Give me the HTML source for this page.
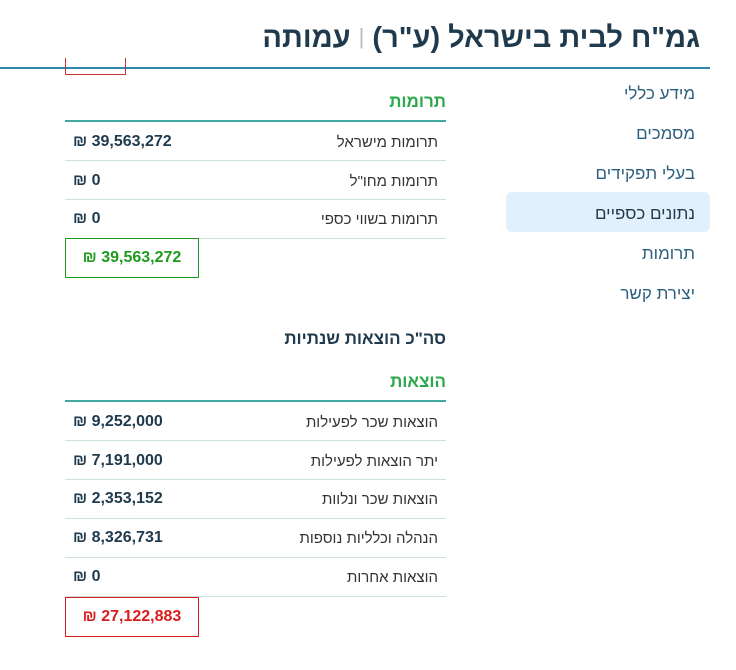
<!DOCTYPE html>
<html lang="he"><head><meta charset="utf-8">
<style>
*{margin:0;padding:0;box-sizing:border-box}
body{width:736px;height:670px;background:#fff;position:relative;overflow:hidden;font-family:"Liberation Sans","Noto Sans CJK JP",sans-serif;color:#333}
.a{position:absolute}
.title{right:36px;top:22px;font-size:29px;font-weight:bold;color:#1f3a4d;direction:rtl;white-space:nowrap}
.title .sep{color:#bbb;font-weight:normal;font-size:22px;vertical-align:3px}
.hr{left:0;top:67px;width:710px;height:2px;background:#2f87ad}
.nav{right:41px;font-size:17px;color:#2d5f7f;direction:rtl;white-space:nowrap}
.active{left:506px;top:192px;width:204px;height:40px;background:#e2f0fb;border-radius:6px}
.h-green{right:290px;font-size:17px;font-weight:bold;color:#2aa84a;direction:rtl}
.h-dark{right:290px;font-size:17px;font-weight:bold;color:#1f3a4d;direction:rtl}
.thick{left:65px;width:381px;height:2px;background:#41a8a3}
.sepl{left:65px;width:381px;height:1px;background:#cfdfe0}
.lbl{right:298px;font-size:15px;color:#333;direction:rtl;white-space:nowrap}
.val{left:73px;font-size:16px;font-weight:bold;color:#1f3a4d;direction:ltr;white-space:nowrap}
.tot{left:65px;width:134px;height:40px;border:1.5px solid;font-size:16px;font-weight:bold;display:flex;align-items:center;justify-content:center;direction:ltr}
</style></head><body>
<div class="a title">גמ"ח לבית בישראל (ע"ר) <span class="sep">|</span> עמותה</div>
<div class="a hr"></div>

<div class="a active"></div>
<div class="a nav" style="top:84px">מידע כללי</div>
<div class="a nav" style="top:124px">מסמכים</div>
<div class="a nav" style="top:164px">בעלי תפקידים</div>
<div class="a nav" style="top:204px;color:#1f3a4d">נתונים כספיים</div>
<div class="a nav" style="top:244px">תרומות</div>
<div class="a nav" style="top:284px">יצירת קשר</div>

<div class="a" style="left:65px;top:58px;width:61px;height:17px;border:1px solid #c33;border-top:none"></div>

<div class="a h-green" style="top:92px">תרומות</div>
<div class="a thick" style="top:120px"></div>
<div class="a lbl" style="top:134px">תרומות מישראל</div>
<div class="a val" style="top:133px">₪ 39,563,272</div>
<div class="a sepl" style="top:160px"></div>
<div class="a lbl" style="top:173px">תרומות מחו"ל</div>
<div class="a val" style="top:172px">₪ 0</div>
<div class="a sepl" style="top:199px"></div>
<div class="a lbl" style="top:211px">תרומות בשווי כספי</div>
<div class="a val" style="top:210px">₪ 0</div>
<div class="a sepl" style="top:238px"></div>
<div class="a tot" style="top:238px;border-color:#1e9a1e;color:#1e9a1e">₪ 39,563,272</div>

<div class="a h-dark" style="top:329px">סה"כ הוצאות שנתיות</div>
<div class="a h-green" style="top:372px">הוצאות</div>
<div class="a thick" style="top:400px"></div>
<div class="a lbl" style="top:414px">הוצאות שכר לפעילות</div>
<div class="a val" style="top:413px">₪ 9,252,000</div>
<div class="a sepl" style="top:440px"></div>
<div class="a lbl" style="top:453px">יתר הוצאות לפעילות</div>
<div class="a val" style="top:452px">₪ 7,191,000</div>
<div class="a sepl" style="top:479px"></div>
<div class="a lbl" style="top:491px">הוצאות שכר ונלוות</div>
<div class="a val" style="top:490px">₪ 2,353,152</div>
<div class="a sepl" style="top:518px"></div>
<div class="a lbl" style="top:530px">הנהלה וכלליות נוספות</div>
<div class="a val" style="top:529px">₪ 8,326,731</div>
<div class="a sepl" style="top:557px"></div>
<div class="a lbl" style="top:569px">הוצאות אחרות</div>
<div class="a val" style="top:568px">₪ 0</div>
<div class="a sepl" style="top:596px"></div>
<div class="a tot" style="top:597px;border-color:#d91c1c;color:#d91c1c">₪ 27,122,883</div>
</body></html>
